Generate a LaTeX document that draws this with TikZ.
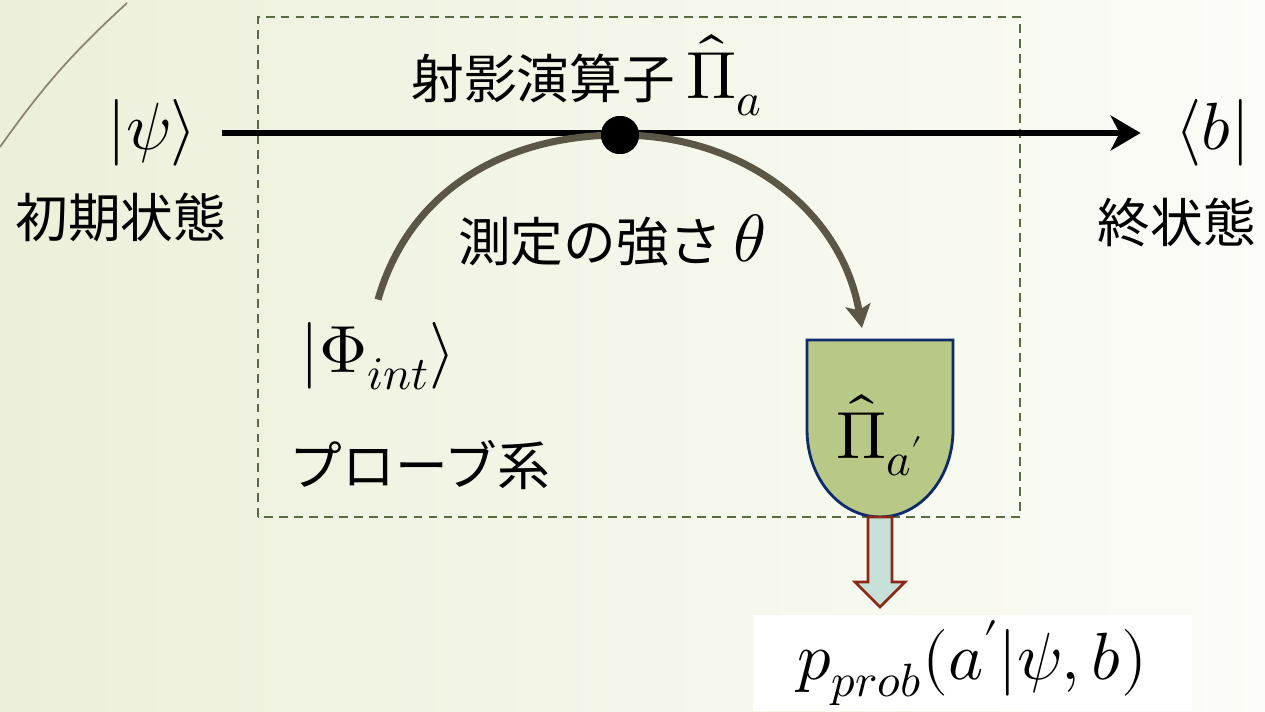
\documentclass[tikz,border=0pt]{standalone}
\usepackage{fontspec}
\usepackage{unicode-math}
\setmathfont{Latin Modern Math}
\newfontfamily\jpfont{Noto Sans CJK JP}
\usetikzlibrary{arrows.meta, positioning, calc}

\definecolor{bgleft}{HTML}{ECF0DA}
\definecolor{bgright}{HTML}{FCFCF8}
\definecolor{boxgreen}{HTML}{5A6A42}
\definecolor{arcgray}{HTML}{5B5646}
\definecolor{detfill}{HTML}{B8C887}
\definecolor{detdraw}{HTML}{0E2A6B}
\definecolor{outfill}{HTML}{C6E0D9}
\definecolor{outdraw}{HTML}{8A2A14}
\definecolor{decoline}{HTML}{8B8474}

\newcommand\bigtxt{\fontsize{30}{36}\selectfont}
\newcommand\bigmath{\fontsize{38}{44}\selectfont}

\begin{document}
\begin{tikzpicture}[
    x=0.02cm, y=0.02cm,
    font=\bigtxt,
    jp/.style={font=\bigtxt\jpfont, inner sep=0pt},
    ket/.style={font=\bigmath, inner sep=0pt},
    probebox/.style={draw=boxgreen, line width=1.6pt, dash pattern=on 5pt off 3.5pt},
    mainline/.style={-{Stealth[length=6mm,width=7mm,inset=1.8mm]},
                     line width=3.2pt, draw=black},
    dotnode/.style={circle, fill=black, minimum size=0.76cm, inner sep=0pt},
    strength/.style={-{Stealth[length=4.6mm,width=5mm,inset=1mm]},
                     line width=4pt, draw=arcgray},
    detector/.style={draw=detdraw, fill=detfill, line width=1.6pt},
    outarrow/.style={draw=outdraw, fill=outfill, line width=1.5pt, line join=miter},
    probbox/.style={fill=white, minimum width=8.78cm, minimum height=1.92cm,
                    inner sep=0pt, font=\bigmath},
]

% --- background ---
\shade[left color=bgleft, right color=bgright] (0,0) rectangle (1265,711);
\useasboundingbox (0,0) rectangle (1265,711);
\draw[decoline, line width=1pt] (127,708) to[bend right=6] (0,564);

% --- probe system frame ---
\draw[probebox] (258,194) rectangle (1020,694);

% --- initial and final states ---
\node[ket] (psi) at (152,578) {$|\psi\rangle$};
\node[jp] (init) at (121,494) {初期状態};
\node[ket] (bra) at (1213,578) {$\langle b|$};
\node[jp] (final) at (1177,489) {終状態};

% --- projection on the main line ---
\node[jp] (projlbl) at (587,636) {射影演算子 {\bigmath$\hat{\Pi}_a$}};
\node[dotnode] (proj) at (620,576) {};

% --- probe ---
\node[ket] (phi) at (378,355) {$|\Phi_{int}\rangle$};
\node[jp] (probe) at (420,246) {プローブ系};
\node[jp] (theta) at (612,471) {測定の強さ {\bigmath$\theta$}};

% --- detector ---
\draw[detector] (807,371) -- (953,371) -- (953,281)
    arc[start angle=0, end angle=-180, x radius=1.46cm, y radius=1.74cm] -- cycle;
\node[ket] (det) at (880,276) {$\hat{\Pi}_{a'}$};
\coordinate (detin) at (862,383);
\coordinate (detbot) at (880,194);

% --- outcome ---
\node[probbox] (prob) at (972.5,48) {$p_{prob}(a'|\psi,b)$};

% --- connections ---
\draw[mainline, shorten <=0.5cm, shorten >=0.7cm] (psi.east) -- (bra.west);
\draw[strength] ([yshift=0.45cm]phi.north) to[out=74,in=180] (proj.center)
    to[out=0,in=100] (detin);
\node[dotnode] at (proj) {};
\draw[outarrow] (detbot) ++(-12,0) -- ++(0,-65) -- ++(-13,0) -- ++(25,-25)
    -- ++(25,25) -- ++(-13,0) -- ++(0,65) -- cycle;

\end{tikzpicture}
\end{document}
